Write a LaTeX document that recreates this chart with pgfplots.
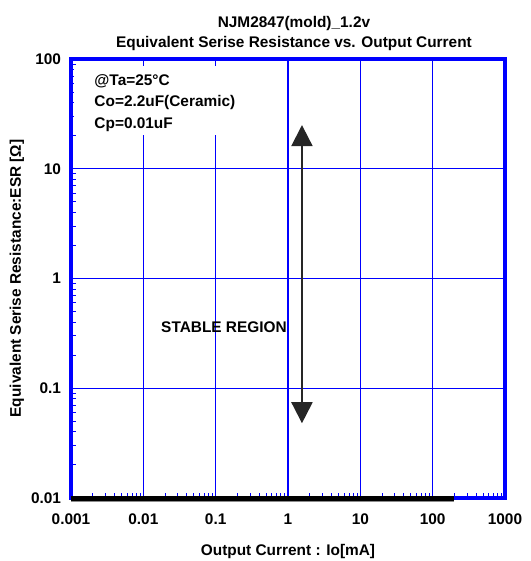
\documentclass[border=0pt]{standalone}
\usepackage{fontspec}
\setmainfont{Liberation Sans}
\usepackage{pgfplots}
\pgfplotsset{compat=1.18}
\usetikzlibrary{arrows.meta}
\newcommand\lf{\fontsize{15.4bp}{18bp}\selectfont\bfseries}
\begin{document}
\begin{tikzpicture}
\path[use as bounding box] (-71bp,-63bp) rectangle (460bp,498bp);
\begin{axis}[
  at={(0,0)}, anchor=south west,
  scale only axis, width=434bp, height=439bp,
  xmode=log, ymode=log,
  xmin=0.001, xmax=1000, ymin=0.01, ymax=100,
  xtick={0.001,0.01,0.1,1,10,100,1000},
  xticklabels={0.001,0.01,0.1,1,10,100,1000},
  ytick={0.01,0.1,1,10,100},
  yticklabels={0.01,0.1,1,10,100},
  minor xtick={2e-3,3e-3,4e-3,5e-3,6e-3,7e-3,8e-3,9e-3,
               2e-2,3e-2,4e-2,5e-2,6e-2,7e-2,8e-2,9e-2,
               2e-1,3e-1,4e-1,5e-1,6e-1,7e-1,8e-1,9e-1,
               2,3,4,5,6,7,8,9,
               20,30,40,50,60,70,80,90,
               200,300,400,500,600,700,800,900},
  minor ytick={2e-2,3e-2,4e-2,5e-2,6e-2,7e-2,8e-2,9e-2,
               2e-1,3e-1,4e-1,5e-1,6e-1,7e-1,8e-1,9e-1,
               2,3,4,5,6,7,8,9,
               20,30,40,50,60,70,80,90},
  xmajorgrids, ymajorgrids,
  grid style={blue, line width=1.2bp},
  major grid style={blue, line width=1.2bp},
  x grid style={blue, line width=1.4bp},
  axis line style={draw=none},
  tick pos=left, tick align=inside,
  major tick length=0pt, minor tick length=5bp,
  every tick/.style={blue, line width=1bp},
  ticklabel style={font=\lf},
  xticklabel style={yshift=-12bp},
  yticklabel style={xshift=-6.5bp},
  clip=false,
]
\draw[blue, line width=4bp] (rel axis cs:0,0) rectangle (rel axis cs:1,1);
\addplot[black!45, line width=3bp, yshift=-2bp] coordinates {(0.001,0.01) (200,0.01)};
\addplot[black, line width=5bp] coordinates {(0.001,0.01) (200,0.01)};
\fill[white] (rel axis cs:0.007,0.827) rectangle (rel axis cs:0.389,0.984);
\node[anchor=base west, font=\lf] at (rel axis cs:0.046,0.9385) {@Ta=25°C};
\node[anchor=base west, font=\lf] at (rel axis cs:0.046,0.8907) {Co=2.2uF(Ceramic)};
\node[anchor=base west, font=\lf] at (rel axis cs:0.046,0.8428) {Cp=0.01uF};
\node[anchor=base, font=\lf] at (rel axis cs:0.3525,0.378) {STABLE REGION};
\draw[black!85, line width=2bp, {Triangle[width=21bp,length=21bp]}-{Triangle[width=21bp,length=21bp]}]
  (axis cs:1.56,0.048) -- (axis cs:1.56,25);
\node[anchor=base, font=\lf] at ([yshift=32bp]rel axis cs:0.5138,1) {NJM2847(mold)\_1.2v};
\node[anchor=base, font=\lf] at ([yshift=12bp]rel axis cs:0.5138,1) {Equivalent Serise Resistance vs. Output Current};
\node[anchor=base, font=\lf] at ([yshift=-57bp]rel axis cs:0.5,0) {Output Current : Io[mA]};
\node[anchor=base, rotate=90, font=\lf] at ([xshift=-50bp]rel axis cs:0,0.5) {Equivalent Serise Resistance:ESR [Ω]};
\end{axis}
\end{tikzpicture}
\end{document}
